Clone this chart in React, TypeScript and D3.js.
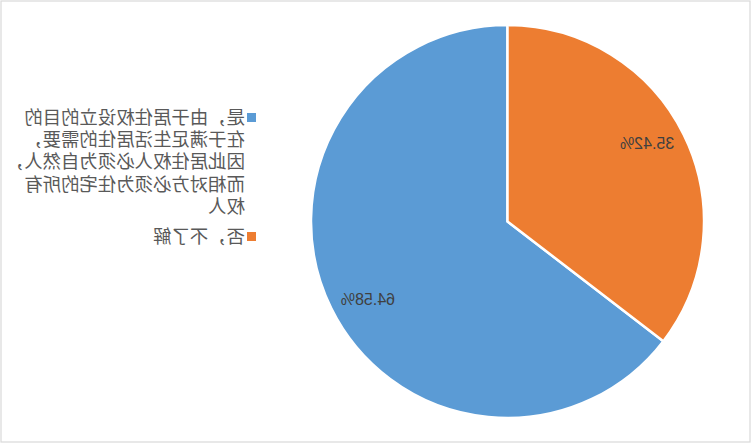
import React from "react";
import * as d3 from "d3";

const categories = [
  "是，由于居住权设立的目的在于满足生活居住的需要，因此居住权人必须为自然人，而相对方必须为住宅的所有权人",
  "否，不了解",
];
const values = [64.58, 35.42];
const legendLines = [
  ["是，由于居住权设立的目的", "在于满足生活居住的需要，", "因此居住权人必须为自然人，", "而相对方必须为住宅的所有", "权人"],
  ["否，不了解"],
];
const colors = ["#5B9BD5", "#ED7D31"];

const W = 752;
const H = 444;

export default function App() {
  const cx = 244.5;
  const cy = 221.5;
  const r = 196.5;
  const labelR = 160;
  const labelShift = (3 * Math.PI) / 180;
  const pie = d3.pie<number>().sort(null).value((d) => d)(values);
  const arc = d3.arc<d3.PieArcDatum<number>>().innerRadius(0).outerRadius(r);
  const total = d3.sum(values);
  const lineH = 22.4;
  const legendX = 496;
  const itemTops = [113, 232];

  return (
    <svg
      width={W}
      height={H}
      style={{ position: "absolute", left: 0, top: 0, background: "#fff" }}
    >
      <rect x={1} y={1} width={749} height={441} fill="#fff" stroke="#D9D9D9" strokeWidth={1.2} />
      <g transform={`translate(${W},0) scale(-1,1)`}>
        <g transform={`translate(${cx},${cy})`}>
          {pie.map((p, i) => (
            <path key={i} d={arc(p) || ""} fill={colors[i]} stroke="#fff" strokeWidth={2.5} strokeLinejoin="round" />
          ))}
          {pie.map((p, i) => {
            const a = (p.startAngle + p.endAngle) / 2 + labelShift;
            const x = labelR * Math.sin(a);
            const y = -labelR * Math.cos(a);
            return (
              <text
                key={"l" + i}
                x={x}
                y={y}
                dy="0.36em"
                textAnchor="middle"
                fontFamily="'Liberation Sans', Arial, sans-serif"
                fontSize={16}
                fill="#404040"
              >
                {((p.data / total) * 100).toFixed(2) + "%"}
              </text>
            );
          })}
        </g>
        <g>
          {categories.map((c, i) => (
            <g key={i}>
              <title>{c}</title>
              <rect x={legendX} y={itemTops[i]} width={9} height={9} fill={colors[i]} />
              <text
                x={legendX + 11}
                y={itemTops[i] + 10.5}
                fontFamily="'Noto Sans CJK SC', sans-serif"
                fontSize={18.4}
                fill="#595959"
              >
                {legendLines[i].map((t, j) => (
                  <tspan key={j} x={legendX + 11} dy={j === 0 ? 0 : lineH}>
                    {t}
                  </tspan>
                ))}
              </text>
            </g>
          ))}
        </g>
      </g>
    </svg>
  );
}
